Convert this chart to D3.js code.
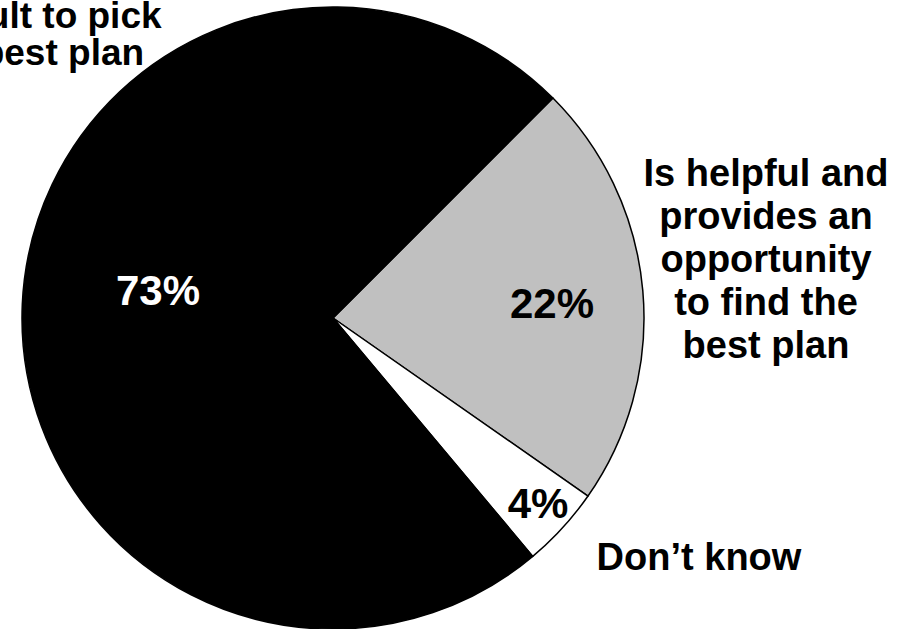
<!DOCTYPE html>
<html>
<head>
<meta charset="utf-8">
<script src="https://cdn.jsdelivr.net/npm/d3@7"></script>
<style>
  html, body { margin: 0; padding: 0; background: #fff; }
  svg { display: block; }
  text { font-family: "Liberation Sans", Arial, sans-serif; font-weight: bold; }
</style>
</head>
<body>
<svg id="chart" width="899" height="629"></svg>
<script>
// Data (clockwise from the grey slice)
const categories = ["Is helpful and provides an opportunity to find the best plan", "Don’t know", "Difficult to pick the best plan"];
const values = [22.2, 4.2, 73.6];
const valueLabels = ["22%", "4%", "73%"];
const fills = ["#c0c0c0", "#ffffff", "#000000"];
const labelColors = ["#000000", "#000000", "#ffffff"];
const outerLabels = [
  ["Is helpful and", "provides an", "opportunity", "to find the", "best plan"],
  ["Don’t know"],
  ["difficult to pick", "the best plan"]
];

const svg = d3.select("#chart");
const cx = 333, cy = 318, R = 311;
const g = svg.append("g").attr("transform", `translate(${cx},${cy})`);

const pie = d3.pie().sort(null).value(d => d)
  .startAngle(45 * Math.PI / 180).endAngle(405 * Math.PI / 180);
const arcs = pie(values);
const arc = d3.arc().innerRadius(0).outerRadius(R);

g.selectAll("path.slice").data(arcs).enter().append("path")
  .attr("class", "slice")
  .attr("d", arc)
  .attr("fill", (d, i) => fills[i])
  .attr("stroke", "#000")
  .attr("stroke-width", 1.5)
  .attr("stroke-linejoin", "round");

// percentage labels
const pctPos = [[219, 0], [205, 200], [-175, -13]];
g.selectAll("text.pct").data(arcs).enter().append("text")
  .attr("class", "pct")
  .attr("x", (d, i) => pctPos[i][0])
  .attr("y", (d, i) => pctPos[i][1])
  .attr("text-anchor", "middle")
  .attr("font-size", 42)
  .attr("fill", (d, i) => labelColors[i])
  .text((d, i) => valueLabels[i]);

// outer labels
const outerPos = [
  { x: 766, y: 186, lh: 43, size: 38 },
  { x: 699, y: 570, lh: 43, size: 38 },
  { x: 30, y: 28, lh: 37, size: 37 }
];
outerLabels.forEach((lines, i) => {
  const p = outerPos[i];
  const t = svg.append("text")
    .attr("text-anchor", "middle")
    .attr("font-size", p.size)
    .attr("fill", "#000");
  lines.forEach((ln, j) => {
    t.append("tspan").attr("x", p.x).attr("y", p.y + j * p.lh).text(ln);
  });
});
</script>
</body>
</html>
